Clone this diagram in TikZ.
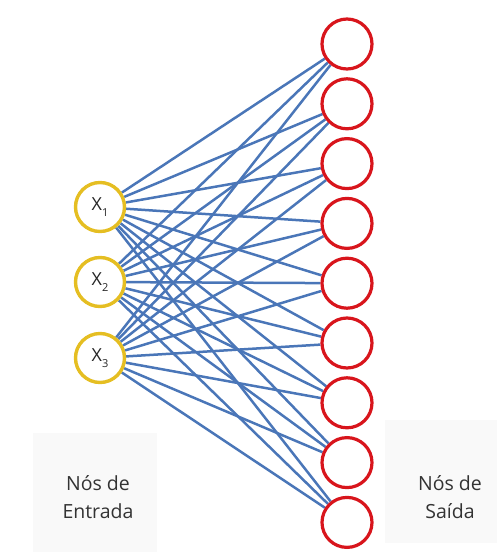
\documentclass[tikz,border=0pt]{standalone}
\usepackage{fontspec}
\setmainfont{Open Sans}
\usetikzlibrary{backgrounds}
\definecolor{edgeblue}{HTML}{4A76B8}
\definecolor{inyellow}{HTML}{E5BE22}
\definecolor{outred}{HTML}{D8151C}
\definecolor{boxgray}{HTML}{F9F9F9}
\tikzset{
  innode/.style={circle, draw=inyellow, line width=3.4pt, fill=white, minimum size=49pt, inner sep=0pt, font=\fontsize{18}{20}\selectfont, text=black!85},
  outnode/.style={circle, draw=outred, line width=3.2pt, fill=white, minimum size=50pt, inner sep=0pt},
  edge/.style={draw=edgeblue, line width=2.5pt},
  lbl/.style={align=center, font=\fontsize{19.5}{28}\selectfont, text=black!80}
}
\newcommand{\xsub}[1]{X\raisebox{-0.3em}{\fontsize{11}{11}\selectfont #1}}
\begin{document}
\begin{tikzpicture}[x=1pt,y=-1pt]
\useasboundingbox (0,0) rectangle (497,552);
\foreach \i [evaluate=\i as \yy using 44+59.8*(\i-1)] in {1,...,9}
  \node[outnode] (o\i) at (347,\yy) {};
\node[innode] (i1) at (100,207) {\xsub{1}};
\node[innode] (i2) at (100,282) {\xsub{2}};
\node[innode] (i3) at (100,358) {\xsub{3}};
\begin{scope}[on background layer]
\fill[boxgray] (33,433) rectangle (157,552);
\fill[boxgray] (385,420) rectangle (497,543);
\foreach \a in {1,2,3}
  \foreach \b in {1,...,9}
    \draw[edge] (i\a) -- (o\b);
\end{scope}
\node[lbl] (lin) at (98,497) {Nós de\\Entrada};
\node[lbl] (lout) at (450,497) {Nós de\\Saída};
\end{tikzpicture}
\end{document}
